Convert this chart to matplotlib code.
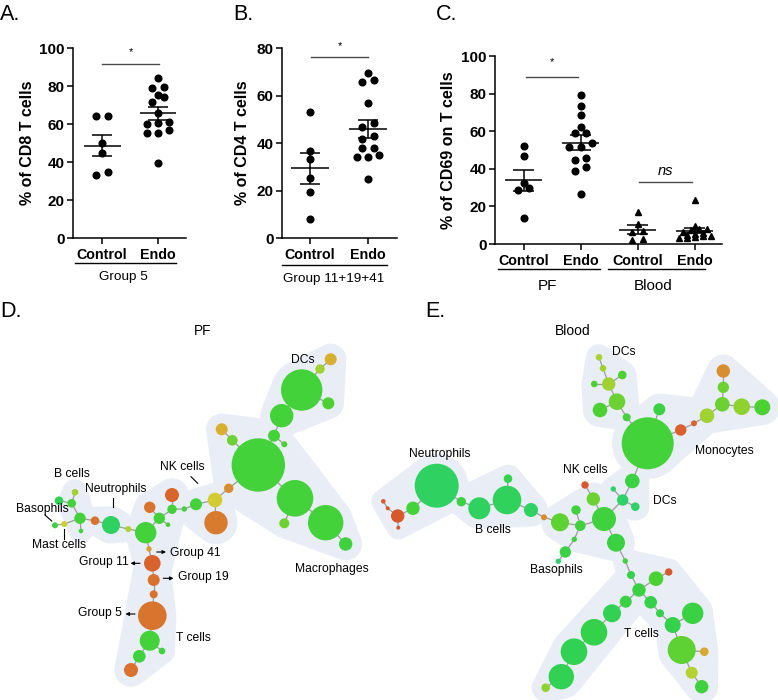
import numpy as np
import matplotlib
matplotlib.use('Agg')
import matplotlib.pyplot as plt
from matplotlib.patches import Circle, Polygon
from matplotlib.colors import LinearSegmentedColormap
import matplotlib.transforms as mtrans

plt.rcParams['font.family'] = ['Liberation Sans', 'DejaVu Sans']

# ---------------- data: dot plots ----------------
groups_ab = ['Control', 'Endo']
a_control = [64, 64, 50.2, 44.6, 33.3, 34.7]
a_endo = [84, 79, 79.5, 75.5, 74, 71.5, 66, 60.5, 61, 60, 55.5, 57, 55.5, 39.6]
b_control = [53.2, 36.6, 33.1, 25.4, 19.5, 7.9]
b_endo = [69.3, 65.8, 66.5, 56.7, 46.6, 48.3, 43.1, 41.7, 37.8, 38, 34.2, 34.9, 34.2, 25.0]
c_pf_control = [52.3, 46.8, 32.6, 28.7, 29.6, 14.0]
c_pf_endo = [79.4, 73.4, 68.4, 62.2, 58.8, 59.3, 51.7, 53.5, 51.7, 44.6, 46.0, 38.7, 40.7, 26.6]
c_blood_control = [17.2, 10.6, 6.6, 7.1, 2.1, 2.5]
c_blood_endo = [23.4, 9.6, 7.4, 6.6, 7.8, 8.0, 3.4, 4.3, 3.5, 3.0, 4.3, 4.8, 6.0, 5.5]
c_groups = ['Control', 'Endo', 'Control', 'Endo']

# ---------------- data: SPADE trees ----------------
# PF tree (D)
d_x = [258.3, 301.7, 281.7, 328.3, 320, 330.7, 274, 284.3, 221.7, 232.3, 295, 325.7, 284.3, 345.7,
       228.7, 215, 216, 196, 184.3, 172, 172, 149.7, 159.3, 168, 145.7, 128.3, 111, 95, 80, 81,
       71.7, 75, 59, 64.3, 55, 149, 152.3, 153.7, 153.7, 152.3, 149.7, 162, 139.3, 131]
d_y = [465, 390, 415.7, 403.3, 369, 359.3, 435.7, 444.3, 429.3, 440.3, 498.3, 522.7, 523.3, 544,
       488.3, 500, 522.7, 504.3, 509, 509.3, 495, 507.3, 518.3, 524.7, 532.7, 529, 525, 520.7, 518.3, 531,
       503.3, 492.3, 500.7, 524, 525.3, 549, 563.3, 580, 594.3, 615.7, 640.7, 651, 656.3, 670]
d_size = [26.7, 20.7, 11.7, 6, 4.7, 6, 6, 3, 6, 5.3, 18.3, 17.7, 5, 6.7,
          4.7, 7.3, 11.7, 6, 2.7, 4.7, 7, 5.7, 5.7, 2.3, 10.7, 3, 9, 4.3, 5.7, 2.3,
          4.3, 3.3, 4.3, 3, 3, 2.7, 8.3, 6, 4, 14.3, 10, 3.3, 6.3, 7]
d_val = [0.22, 0.22, 0.22, 0.25, 0.38, 0.58, 0.22, 0.25, 0.58, 0.3, 0.22, 0.22, 0.3, 0.2,
         0.68, 0.5, 0.74, 0.22, 0.22, 0.22, 0.85, 0.78, 0.22, 0.22, 0.22, 0.4, 0.08, 0.78, 0.22, 0.2,
         0.22, 0.38, 0.12, 0.48, 0.2, 0.62, 0.86, 0.78, 0.78, 0.77, 0.22, 0.2, 0.2, 0.78]
d_edges = [(0, 6), (6, 2), (2, 1), (1, 3), (1, 4), (4, 5), (6, 7), (0, 9), (9, 8), (0, 10), (10, 11),
           (10, 12), (11, 13), (0, 14), (14, 15), (15, 16), (15, 17), (17, 18), (18, 19), (19, 20),
           (19, 22), (22, 21), (22, 23), (22, 24), (24, 25), (25, 26), (26, 27), (27, 28), (28, 29),
           (28, 30), (30, 31), (30, 32), (28, 33), (33, 34), (24, 35), (35, 36), (36, 37), (37, 38),
           (38, 39), (39, 40), (40, 41), (40, 42), (42, 43)]
d_blobs = [[0, 6, 7, 8, 9, 10, 11, 12, 13, 14], [1, 2, 3, 4, 5], [15, 16, 17, 18],
           [19, 20, 21, 22, 23, 24, 35, 36, 37], [36, 37, 38, 39, 40, 41, 42, 43], [25, 26, 27],
           [28, 29, 30, 31]]

# Blood tree (E)
e_x = [647.7, 659.3, 680.7, 694, 707, 722.3, 723.3, 723.3, 741.7, 762.3,
       626.7, 617, 600, 608.7, 594.3, 622.3, 603, 599,
       632.3, 613.3, 622.7, 635.3,
       604, 593.3, 585, 576, 580.3, 560, 544, 574.3, 565.3, 558.3,
       616, 625.3, 631, 639, 656, 668.7, 625.7, 612, 594, 574, 561.3, 545.7,
       650.7, 660, 672.7, 692.7, 681.7, 704.3, 691.7, 701.7,
       436.7, 413, 397.7, 398.3, 387.7, 383.3, 461.3, 479.3, 507, 508, 531]
e_y = [443.3, 409.3, 430, 423.3, 415.7, 404.3, 387.3, 371, 406.7, 407.3,
       417.3, 401.7, 410, 384, 384, 375, 368.3, 357.3,
       481, 489, 500, 506.7,
       519, 499, 485, 510, 525.7, 522.3, 517.3, 539.3, 552, 561.3,
       542.7, 561, 575, 590, 578.7, 572, 601.7, 613.3, 632.3, 651.7, 676.7, 687.7,
       602.3, 613.3, 625, 613.3, 650, 651.7, 672.7, 686.7,
       485.7, 508.3, 516, 527.7, 508.3, 501.3, 501.7, 508.3, 500, 478.7, 510]
e_size = [26, 6, 5.7, 3, 7.3, 7.3, 5.7, 6.7, 8.3, 8,
          4, 8.3, 7.3, 6.7, 3.3, 4.3, 3.3, 3.3,
          7.3, 2.7, 5.7, 4.3,
          12, 6.7, 3.7, 4.7, 5.3, 9, 3, 2.7, 5.7, 2.7,
          9, 2.7, 4, 6.7, 7.3, 3.7, 6, 9, 13.3, 13.3, 12.7, 4.3,
          6.3, 4, 8, 10.7, 14, 4.3, 6, 6.7,
          22, 6.7, 6.7, 2, 2, 2.3, 4.7, 11, 14.3, 4.3, 7]
e_val = [0.22, 0.18, 0.88, 0.85, 0.38, 0.3, 0.3, 0.68, 0.35, 0.25,
         0.22, 0.3, 0.25, 0.38, 0.25, 0.25, 0.38, 0.4,
         0.18, 0.05, 0.07, 0.07,
         0.2, 0.3, 0.92, 0.2, 0.2, 0.28, 0.68, 0.2, 0.18, 0.05,
         0.18, 0.2, 0.15, 0.18, 0.25, 0.92, 0.18, 0.12, 0.15, 0.12, 0.12, 0.35,
         0.15, 0.15, 0.15, 0.18, 0.28, 0.6, 0.42, 0.2,
         0.08, 0.22, 0.92, 0.92, 0.92, 0.9, 0.18, 0.08, 0.1, 0.15, 0.08]
e_edges = [(0, 1), (0, 2), (2, 3), (3, 4), (4, 5), (5, 6), (6, 7), (5, 8), (8, 9),
           (0, 10), (10, 11), (11, 12), (11, 13), (13, 14), (13, 15), (13, 16), (16, 17),
           (0, 18), (18, 20), (20, 19), (20, 21), (20, 22),
           (22, 23), (23, 24), (22, 26), (26, 25), (26, 27), (27, 28), (26, 29), (29, 30), (30, 31),
           (28, 62), (62, 60), (60, 61), (60, 59), (59, 58), (58, 52), (52, 53), (53, 54), (54, 55),
           (54, 56), (56, 57),
           (22, 32), (32, 33), (33, 34), (34, 35), (35, 36), (36, 37), (35, 38), (38, 39), (39, 40),
           (40, 41), (41, 42), (42, 43), (35, 44), (44, 45), (45, 46), (46, 47), (46, 48), (48, 49),
           (48, 50), (50, 51)]
e_blobs = [[0, 1, 2, 3, 4], [3, 4, 5, 6, 7, 8, 9], [11, 12, 13, 14, 15, 16, 17, 10],
           [18, 19, 20, 21], [22, 23, 25, 26, 27, 29, 32], [52, 53, 54, 55, 56, 57],
           [58, 59, 60, 61, 62], [34, 35, 38, 39, 40, 41, 42, 43],
           [33, 34, 35, 36, 37, 44, 45, 46, 47], [46, 47, 48, 49, 50, 51]]

# ---------------- figure ----------------
W, H = 778, 700
fig = plt.figure(figsize=(W / 100, H / 100), dpi=100)


def px_axes(l, t, r, b):
    return fig.add_axes([l / W, 1 - b / H, (r - l) / W, (b - t) / H])


def row_offsets(vals, thresh):
    vals = np.asarray(vals, dtype=float)
    order = np.argsort(vals, kind='stable')
    offs = np.zeros(len(vals))
    rows, row = [], []
    for i in order:
        if row and vals[i] - vals[row[0]] > thresh:
            rows.append(row)
            row = []
        row.append(i)
    rows.append(row)
    for r in rows:
        n = len(r)
        for k, i in enumerate(r):
            offs[i] = k - (n - 1) / 2
    return offs


def style_axis(ax, ylim, yticks, xlim, xt, xlabels, ylabel, ylab_x):
    ax.set_ylim(*ylim)
    ax.set_xlim(*xlim)
    ax.set_yticks(yticks)
    ax.set_yticklabels([str(t) for t in yticks], fontweight='bold', fontsize=11)
    ax.set_xticks(xt)
    ax.set_xticklabels(xlabels, fontweight='bold', fontsize=10.3)
    for s in ['top', 'right']:
        ax.spines[s].set_visible(False)
    for s in ['left', 'bottom']:
        ax.spines[s].set_linewidth(1.1)
    ax.tick_params(axis='y', direction='out', length=4, width=1.1, pad=2)
    ax.tick_params(axis='x', direction='out', length=4, width=1.1, pad=3)
    ax.set_ylabel(ylabel, fontweight='bold', fontsize=11.5, va='center')
    ax.yaxis.set_label_coords(ylab_x, 0.5)
    ax.patch.set_visible(False)


def dot_panel(ax, datasets, markers, threshs, spacings, sizes):
    for pos, (vals, mk, th, sp, ms) in enumerate(zip(datasets, markers, threshs, spacings, sizes)):
        v = np.asarray(vals, dtype=float)
        offs = row_offsets(v, th)
        ax.plot(pos + offs * sp, v, ls='none', marker=mk, ms=ms, color='black',
                mec='black', zorder=3, clip_on=False)
        m = v.mean()
        se = v.std(ddof=1) / np.sqrt(len(v))
        kw = dict(color='black', lw=1.1, zorder=4, solid_capstyle='butt')
        ax.plot([pos - 0.33, pos + 0.33], [m, m], **kw)
        ax.plot([pos - 0.18, pos + 0.18], [m + se, m + se], **kw)
        ax.plot([pos - 0.18, pos + 0.18], [m - se, m - se], **kw)
        ax.plot([pos, pos], [m - se, m + se], **kw)


def sig(ax, x0, x1, y, label, ty, italic=False, fs=8):
    ax.plot([x0, x1], [y, y], color='#4a4a4a', lw=1.0, clip_on=False)
    ax.text((x0 + x1) / 2, ty, label, ha='center', va='center', fontsize=fs,
            style='italic' if italic else 'normal', clip_on=False)


def group_line(ax, x0, x1, yfrac, label, tx, tyfrac, fs):
    tr = mtrans.blended_transform_factory(ax.transData, ax.transAxes)
    ax.plot([x0, x1], [yfrac, yfrac], color='black', lw=1.0, transform=tr, clip_on=False)
    ax.text(tx, tyfrac, label, transform=tr, ha='center', va='center', fontsize=fs)


# Panel A
axA = px_axes(73, 48, 186, 238)
dot_panel(axA, [a_control, a_endo], ['o', 'o'], [3.0, 3.0], [0.205, 0.205], [4.8, 4.8])
style_axis(axA, (0, 100), [0, 20, 40, 60, 80, 100], (-0.52, 1.5), [0, 1], groups_ab,
           '% of CD8 T cells', -0.405)
sig(axA, 0.0, 1.02, 91.6, '*', 98)
group_line(axA, -0.48, 1.32, -0.132, 'Group 5', 0.39, -0.205, 9.7)

# Panel B
axB = px_axes(282, 48, 397, 238)
dot_panel(axB, [b_control, b_endo], ['o', 'o'], [2.5, 2.5], [0.195, 0.195], [4.8, 4.8])
style_axis(axB, (0, 80), [0, 20, 40, 60, 80], (-0.483, 1.5), [0, 1], groups_ab,
           '% of CD4 T cells', -0.34)
sig(axB, 0.02, 1.0, 76.1, '*', 81)
group_line(axB, -0.48, 1.33, -0.142, 'Group 11+19+41', 0.4, -0.216, 9.7)

# Panel C
axC = px_axes(495, 56, 722, 244)
dot_panel(axC, [c_pf_control, c_pf_endo, c_blood_control, c_blood_endo],
          ['o', 'o', '^', '^'], [3.2, 3.2, 1.6, 1.6], [0.205, 0.205, 0.2, 0.14],
          [4.8, 4.8, 4.6, 4.6])
style_axis(axC, (0, 100), [0, 20, 40, 60, 80, 100], (-0.5, 3.48), [0, 1, 2, 3], c_groups,
           '% of CD69 on T cells', -0.205)
sig(axC, 0.035, 0.95, 88.9, '*', 96.8)
sig(axC, 2.03, 2.96, 33.1, 'ns', 38.8, italic=True, fs=10.5)
group_line(axC, -0.45, 1.34, -0.133, 'PF', 0.42, -0.223, 11)
group_line(axC, 1.48, 3.19, -0.133, 'Blood', 2.27, -0.223, 11)

# panel letters
for lab, x, y in [('A.', 0, 20), ('B.', 233, 20), ('C.', 436, 20), ('D.', 0, 317), ('E.', 425, 317)]:
    fig.text(x / W, 1 - y / H, lab, fontsize=15.5, va='baseline', ha='left')

# ---------------- trees ----------------
spade = LinearSegmentedColormap.from_list('spade', [
    (0.0, '#2bd27a'), (0.15, '#33d24a'), (0.25, '#4ad232'), (0.35, '#8fd232'),
    (0.45, '#c4d232'), (0.52, '#d8c832'), (0.62, '#d8a030'), (0.75, '#d9782e'),
    (0.88, '#d9602c'), (1.0, '#d44a2a')])

axT = fig.add_axes([0, 0, 1, 400 / H])
axT.set_xlim(0, W)
axT.set_ylim(H, 300)
axT.axis('off')


def convex_hull(pts):
    pts = sorted(set(pts))
    if len(pts) <= 2:
        return pts

    def cross(o, a, b):
        return (a[0] - o[0]) * (b[1] - o[1]) - (a[1] - o[1]) * (b[0] - o[0])
    lower, upper = [], []
    for p in pts:
        while len(lower) >= 2 and cross(lower[-2], lower[-1], p) <= 0:
            lower.pop()
        lower.append(p)
    for p in reversed(pts):
        while len(upper) >= 2 and cross(upper[-2], upper[-1], p) <= 0:
            upper.pop()
        upper.append(p)
    return lower[:-1] + upper[:-1]


def draw_tree(ax, xs, ys, sizes, vals, edges, blobs, pad=9):
    ang = np.linspace(0, 2 * np.pi, 48, endpoint=False)
    for blob in blobs:
        pts = []
        for i in blob:
            rr = sizes[i] + pad
            for a in ang:
                pts.append((round(xs[i] + rr * np.cos(a), 3), round(ys[i] + rr * np.sin(a), 3)))
        hull = convex_hull(pts)
        ax.add_patch(Polygon(hull, closed=True, fc='#e9eef6', ec='#e9eef6', lw=1, zorder=0))
    for a, b in edges:
        ax.plot([xs[a], xs[b]], [ys[a], ys[b]], color='#9c9c9c', lw=0.9, zorder=1)
    for i in range(len(xs)):
        ax.add_patch(Circle((xs[i], ys[i]), sizes[i], fc=spade(vals[i]), ec='none', zorder=2))


draw_tree(axT, d_x, d_y, d_size, d_val, d_edges, d_blobs)
draw_tree(axT, e_x, e_y, e_size, e_val, e_edges, e_blobs)

tfs = 8.7
axT.text(203, 331, 'PF', fontsize=9.8, ha='center', va='center')
axT.text(573, 331, 'Blood', fontsize=10, ha='center', va='center')

d_labels = [('DCs', 303.3, 360), ('NK cells', 182.7, 467.3), ('B cells', 71.7, 474.3),
            ('Neutrophils', 115.7, 489), ('Basophils', 42.7, 509), ('Mast cells', 59, 545),
            ('T cells', 193.3, 638.3), ('Macrophages', 332.3, 569.3)]
for t, x, y in d_labels:
    axT.text(x, y, t, fontsize=tfs, ha='center', va='center')
for (x0, y0, x1, y1) in [(191, 476.7, 197.7, 483.3), (112.7, 498.3, 112.7, 507.3),
                         (45, 515, 51.7, 521), (64.3, 529.3, 64.3, 539.3)]:
    axT.plot([x0, x1], [y0, y1], color='black', lw=0.8)

for t, tx, ty, ha, (sx, sy), (ex, ey) in [
        ('Group 41', 170, 553.3, 'left', (156.7, 552), (166, 552)),
        ('Group 11', 128.3, 562.3, 'right', (140, 563.3), (130.5, 563.3)),
        ('Group 19', 177.7, 577.3, 'left', (163.3, 578.3), (173.5, 578.3)),
        ('Group 5', 122.3, 613.3, 'right', (135, 614), (125.5, 614))]:
    axT.text(tx, ty, t, fontsize=tfs, ha=ha, va='center')
    axT.annotate('', xy=(ex, ey), xytext=(sx, sy),
                 arrowprops=dict(arrowstyle='-|>', color='black', lw=0.8, mutation_scale=5,
                                 shrinkA=0, shrinkB=0))

e_labels = [('DCs', 624, 352.3), ('Monocytes', 724, 450.7), ('Neutrophils', 439.3, 454),
            ('NK cells', 585.7, 470), ('DCs', 665, 501), ('B cells', 492.7, 530),
            ('Basophils', 556.7, 570), ('T cells', 641.7, 634.3)]
for t, x, y in e_labels:
    axT.text(x, y, t, fontsize=tfs, ha='center', va='center')

fig.savefig('out.png', dpi=100)
